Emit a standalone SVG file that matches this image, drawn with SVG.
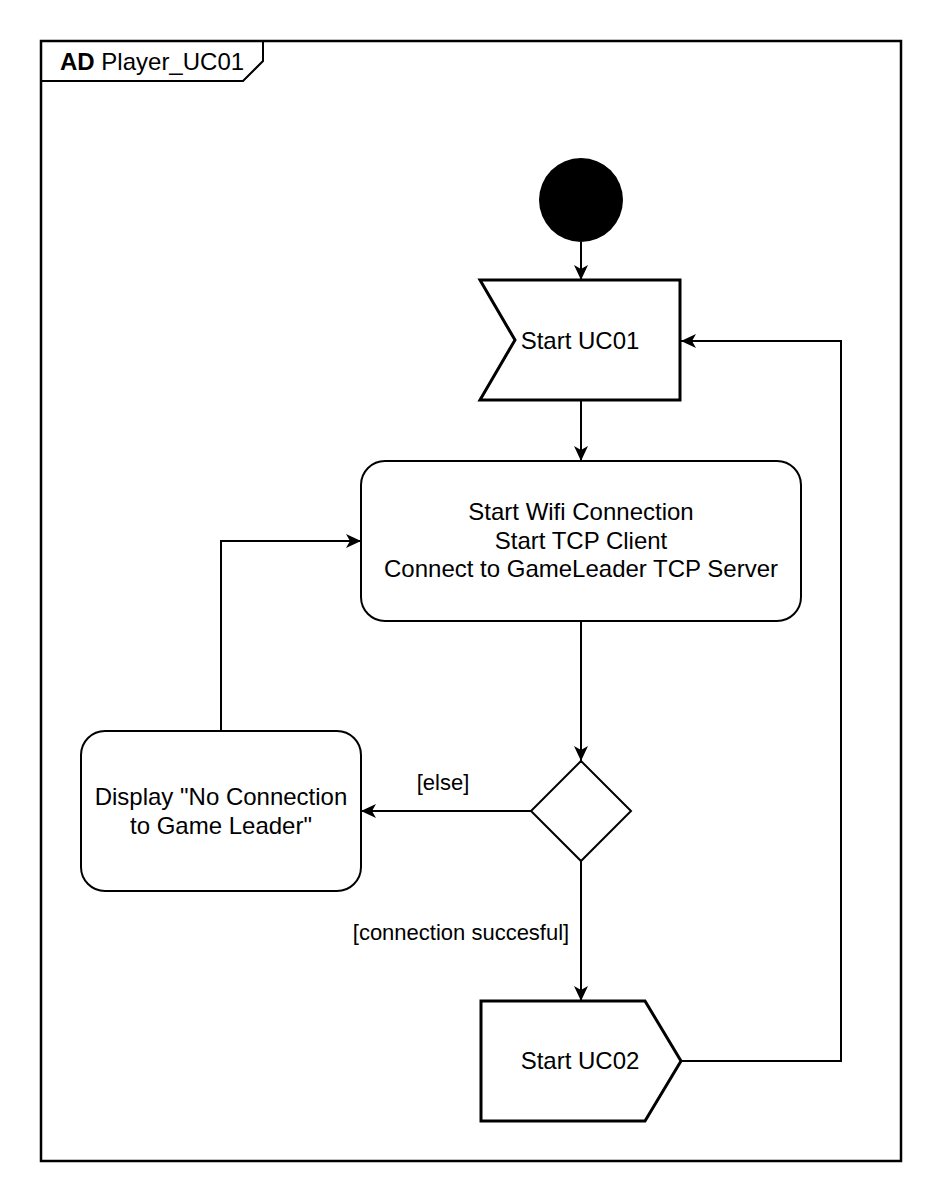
<svg xmlns="http://www.w3.org/2000/svg" width="942" height="1202" viewBox="0 0 942 1202">
  <style>
    .txt { font-family: "Liberation Sans", Arial, sans-serif; font-size: 24px; fill: #000; text-anchor: middle; }
    .lbl { font-family: "Liberation Sans", Arial, sans-serif; font-size: 22px; fill: #000; text-anchor: middle; }
    .shape { fill: #fff; stroke: #000; stroke-width: 2; }
    .thick { fill: #fff; stroke: #000; stroke-width: 3; }
    .edge { fill: none; stroke: #000; stroke-width: 2; marker-end: url(#arrow); }
  </style>
  <defs>
    <marker id="arrow" markerUnits="userSpaceOnUse" markerWidth="16" markerHeight="16" viewBox="0 0 16 16" refX="15" refY="8" orient="auto">
      <path d="M0,1 L15,8 L0,15 L4,8 Z" fill="#000"/>
    </marker>
  </defs>
  <rect width="942" height="1202" fill="#fff"/>

  <g id="frame">
    <rect x="41" y="41" width="860" height="1120" fill="none" stroke="#000" stroke-width="2.5"/>
    <path d="M41,81 L243,81 L263,61 L263,41" fill="none" stroke="#000" stroke-width="2"/>
    <text x="60" y="70" font-family="Liberation Sans, Arial, sans-serif" font-size="24" fill="#000"><tspan font-weight="bold">AD</tspan> Player_UC01</text>
  </g>

  <g id="connectors">
    <path class="edge" d="M581,242 L581,280"/>
    <path class="edge" d="M581,400 L581,461"/>
    <path class="edge" d="M581,621 L581,761"/>
    <path class="edge" d="M531,811 L361,811"/>
    <path class="edge" d="M221,731 L221,541 L361,541"/>
    <path class="edge" d="M581,861 L581,1001"/>
    <path class="edge" d="M681,1061 L841,1061 L841,341 L681,341"/>
    <text class="lbl" x="443" y="790">[else]</text>
    <text class="lbl" x="461" y="940">[connection succesful]</text>
  </g>

  <g id="start">
    <circle cx="581" cy="200" r="42" fill="#000"/>
  </g>

  <g id="startUC01">
    <polygon class="thick" points="480,280 680,280 680,400 480,400 515,340"/>
    <text class="txt" x="580" y="349">Start UC01</text>
  </g>

  <g id="connect">
    <rect class="shape" x="361" y="461" width="440" height="160" rx="24" ry="24"/>
    <text class="txt" x="581" y="520">Start Wifi Connection</text>
    <text class="txt" x="581" y="549">Start TCP Client</text>
    <text class="txt" x="581" y="577">Connect to GameLeader TCP Server</text>
  </g>

  <g id="decision">
    <polygon class="shape" points="581,761 631,811 581,861 531,811"/>
  </g>

  <g id="noConnection">
    <rect class="shape" x="81" y="731" width="280" height="160" rx="24" ry="24"/>
    <text class="txt" x="221" y="805">Display "No Connection</text>
    <text class="txt" x="221" y="834">to Game Leader"</text>
  </g>

  <g id="startUC02">
    <polygon class="thick" points="481,1001 645,1001 681,1061 645,1121 481,1121"/>
    <text class="txt" x="580" y="1069">Start UC02</text>
  </g>
</svg>
